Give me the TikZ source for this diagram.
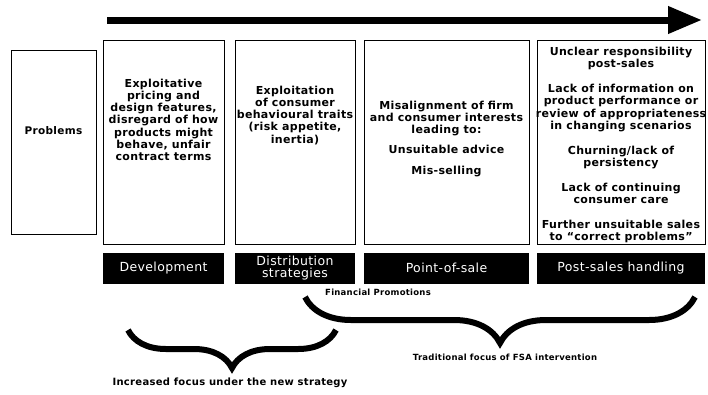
\documentclass[tikz,border=0pt]{standalone}
\usepackage{fontspec}
\setmainfont{DejaVu Sans}[LetterSpace=3]
\usetikzlibrary{positioning,arrows.meta,decorations.pathreplacing}

\begin{document}
\begin{tikzpicture}[x=1pt, y=-1pt,
    box/.style={draw, line width=.7pt, inner sep=0pt, minimum height=204pt},
    txt/.style={align=center, inner sep=0pt, font=\fontsize{11}{12.2}\selectfont\bfseries},
    bar/.style={fill=black, text=white, align=center, inner sep=0pt, minimum height=31pt, font=\fontsize{12.5}{12.5}\selectfont},
    bracepen/.style={line width=6pt, decorate, decoration={brace, mirror, amplitude=#1}}]

    \useasboundingbox (0,0) rectangle (708,394);

    \coordinate (flowstart) at (107,20);
    \coordinate (flowend) at (702,20);
    \draw [line width=7pt, -{Triangle[length=34pt,width=26pt]}] (flowstart) -- (flowend);

    \node [box, minimum width=85pt, minimum height=184pt] (problems) at (53.5,142) {};
    \node [box, minimum width=121pt] (dev) at (163.5,142) {};
    \node [box, minimum width=120pt] (dist) at (295,142) {};
    \node [box, minimum width=165pt] (pos) at (446.5,142) {};
    \node [box, minimum width=168pt] (post) at (621,142) {};

    \node [txt, font=\fontsize{10.5}{12}\selectfont\bfseries] (problemstext) at ([yshift=11pt]problems.center) {Problems};
    \node [txt, below=39pt of dev.north] (devtext) {Exploitative\\pricing and\\design features,\\disregard of how\\products might\\behave, unfair\\contract terms};
    \node [txt, below=46pt of dist.north] (disttext) {Exploitation\\of consumer\\behavioural traits\\(risk appetite,\\inertia)};
    \node [txt, below=61pt of pos.north] (postext) {Misalignment of firm\\and consumer interests\\leading to:\\[8pt]Unsuitable advice\\[8pt]Mis-selling};
    \node [txt, below=7pt of post.north, font=\fontsize{11}{12.5}\selectfont\bfseries] (posttext) {Unclear responsibility\\post-sales\\[12pt]Lack of information on\\product performance or\\review of appropriateness\\in changing scenarios\\[12pt]Churning/lack of\\persistency\\[12pt]Lack of continuing\\consumer care\\[12pt]Further unsuitable sales\\to ``correct problems''};

    \node [bar, minimum width=121pt, below=8pt of dev] (devbar) {Development};
    \node [bar, minimum width=120pt, below=8pt of dist] (distbar) {Distribution\\strategies};
    \node [bar, minimum width=165pt, below=8pt of pos] (posbar) {Point-of-sale};
    \node [bar, minimum width=168pt, below=8pt of post] (postbar) {Post-sales handling};

    \node [inner sep=0pt, font=\fontsize{8.5}{10}\selectfont\bfseries] (promo) at (378,292) {Financial Promotions};

    \coordinate (tradleft) at (305,297);
    \coordinate (tradright) at (695,297);
    \draw [bracepen=46pt] (tradleft) -- (tradright);
    \node [inner sep=0pt, font=\fontsize{8.5}{10}\selectfont\bfseries] (tradlabel) at (505,357) {Traditional focus of FSA intervention};

    \coordinate (newleft) at (128,330);
    \coordinate (newright) at (336,330);
    \draw [bracepen=38pt] (newleft) -- (newright);
    \node [inner sep=0pt, font=\fontsize{10}{11}\selectfont\bfseries] (newlabel) at (230,383) {Increased focus under the new strategy};

\end{tikzpicture}
\end{document}
